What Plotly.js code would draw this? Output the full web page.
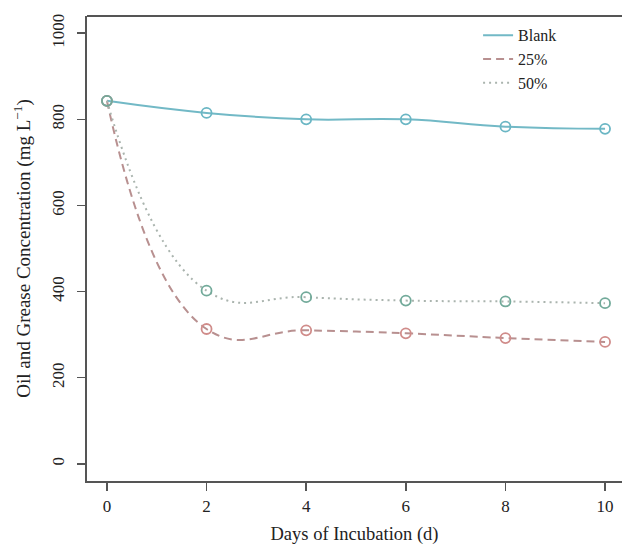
<!DOCTYPE html>
<html>
<head>
<meta charset="utf-8">
<script src="https://cdn.plot.ly/plotly-3.0.1.min.js"></script>
<style>html,body{margin:0;padding:0;background:#fff;}#chart{width:622px;height:549px;}</style>
</head>
<body>
<div id="chart"></div>
<script>
const days = [0, 2, 4, 6, 8, 10];
const blank = [843, 815, 800, 800, 783, 778];
const pct25 = [843, 313, 310, 303, 292, 283];
const pct50 = [843, 402, 387, 379, 377, 373];
const seriesNames = ['Blank', '25%', '50%'];
const xTicks = [0, 2, 4, 6, 8, 10];
const yTicks = [0, 200, 400, 600, 800, 1000];

const lineColors = ['#72b9c6', '#b89090', '#aab4ae'];
const markerColors = ['#6ab6c4', '#d08c8a', '#72aa9a'];
const dashes = ['solid', '8px,5px', '2px,4px'];
const data = [blank, pct25, pct50];

const font = '"Liberation Serif", "Times New Roman", serif';
const traces = [];
data.forEach((ys, i) => {
  traces.push({
    x: days, y: ys, name: seriesNames[i], type: 'scatter', mode: 'lines',
    line: {color: lineColors[i], width: 2, dash: dashes[i], shape: 'spline', smoothing: 1.3},
    hoverinfo: 'skip'
  });
});
data.forEach((ys, i) => {
  traces.push({
    x: days, y: ys, type: 'scatter', mode: 'markers', showlegend: false,
    marker: {symbol: 'circle-open', size: 10, color: markerColors[i], line: {width: 1.8, color: markerColors[i]}},
    hoverinfo: 'skip'
  });
});

const layout = {
  width: 622, height: 549,
  margin: {l: 87, r: 0, t: 16, b: 68},
  paper_bgcolor: '#fff', plot_bgcolor: '#fff',
  font: {family: font, size: 17, color: '#222'},
  showlegend: true,
  legend: {x: 0.731, y: 0.995, xanchor: 'left', yanchor: 'top', bgcolor: 'rgba(0,0,0,0)',
           font: {family: font, size: 16, color: '#222'}, tracegroupgap: 0},
  xaxis: {
    range: [-0.4, 10.34], tickvals: xTicks, ticktext: xTicks.map(String),
    showgrid: false, zeroline: false, showline: true, linecolor: '#555', linewidth: 2,
    ticks: 'outside', ticklen: 8, tickwidth: 1.5, tickcolor: '#555',
    tickfont: {family: font, size: 17, color: '#222'}, ticklabelstandoff: 1,
    title: {text: 'Days of Incubation (d)', font: {family: font, size: 18.5, color: '#222'}, standoff: 12}
  },
  yaxis: {
    range: [-40, 1040], tickvals: yTicks, ticktext: yTicks.map(String),
    showgrid: false, zeroline: false, showline: true, linecolor: '#555', linewidth: 2,
    ticks: 'outside', ticklen: 8, tickwidth: 1.5, tickcolor: '#555', tickangle: -90,
    tickfont: {family: font, size: 17, color: '#222'}, ticklabelstandoff: 6
  },
  annotations: [
    {text: 'Oil and Grease Concentration (mg L<sup>−1</sup>)', xref: 'paper', yref: 'paper',
     x: -0.121, y: 0.5, xanchor: 'center', yanchor: 'middle', textangle: -90, showarrow: false,
     font: {family: font, size: 19, color: '#222'}}
  ],
  shapes: [
    {type: 'line', xref: 'paper', yref: 'paper', x0: 0, x1: 1, y0: 1, y1: 1, line: {color: '#555', width: 2}}
  ]
};

Plotly.newPlot('chart', traces, layout, {displayModeBar: false, staticPlot: true});
</script>
</body>
</html>
